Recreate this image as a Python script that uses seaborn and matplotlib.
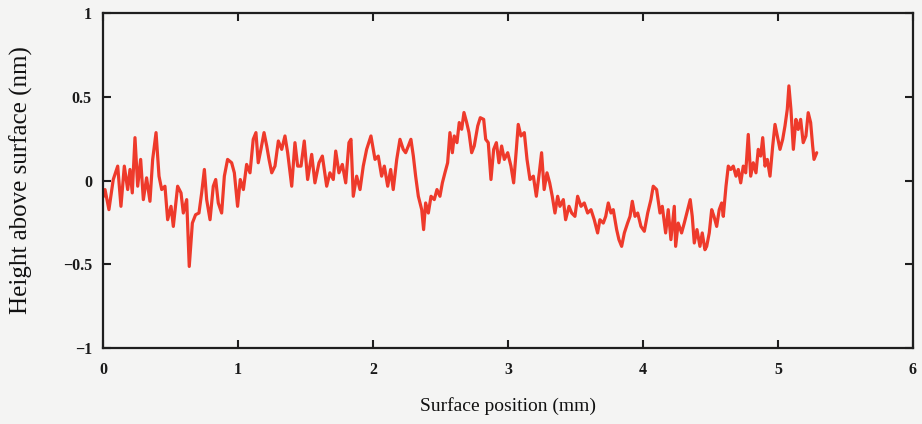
import matplotlib
matplotlib.use("Agg")
import matplotlib.pyplot as plt
import seaborn as sns
import numpy as np
import pandas as pd

# Surface profile: position along the surface (mm) and height above surface (nm)
position_mm = [
    0.0, 0.015, 0.044, 0.076, 0.109, 0.133, 0.158, 0.183, 0.2, 0.217, 0.237,
    0.257, 0.279, 0.299, 0.323, 0.348, 0.368, 0.393, 0.415, 0.435, 0.459,
    0.479, 0.504, 0.521, 0.553, 0.578, 0.595, 0.62, 0.639, 0.662, 0.686,
    0.711, 0.731, 0.751, 0.768, 0.793, 0.817, 0.835, 0.854, 0.879, 0.899,
    0.923, 0.953, 0.973, 0.997, 1.017, 1.04, 1.064, 1.089, 1.113,
    1.133, 1.15, 1.17, 1.193, 1.213, 1.23, 1.25, 1.274, 1.299, 1.324, 1.348,
    1.368, 1.398, 1.422, 1.442, 1.467, 1.491, 1.516, 1.546, 1.57, 1.6, 1.625,
    1.657, 1.681, 1.706, 1.724, 1.748, 1.773, 1.798, 1.822, 1.837, 1.854,
    1.879, 1.904, 1.928, 1.953, 1.985, 2.015, 2.039, 2.064, 2.084, 2.109,
    2.131, 2.15, 2.176, 2.2, 2.224,
    2.242, 2.262, 2.281, 2.299, 2.316, 2.336, 2.361, 2.375, 2.39, 2.41, 2.43,
    2.454, 2.474, 2.496, 2.514, 2.533, 2.553, 2.57, 2.588, 2.602, 2.622,
    2.639, 2.657, 2.674, 2.694, 2.711, 2.731, 2.75, 2.776, 2.795, 2.82,
    2.835, 2.854, 2.874, 2.894, 2.914, 2.933, 2.953, 2.973, 2.998, 3.022,
    3.042, 3.062, 3.076, 3.096, 3.121, 3.141, 3.163, 3.188, 3.21, 3.232,
    3.249, 3.268, 3.289, 3.309, 3.328, 3.348,
    3.368, 3.385, 3.41, 3.427, 3.452, 3.472, 3.496, 3.516, 3.541, 3.565,
    3.59, 3.615, 3.639, 3.664, 3.681, 3.706, 3.724, 3.743, 3.763, 3.78,
    3.805, 3.822, 3.842, 3.862, 3.886, 3.904, 3.921, 3.941, 3.961, 3.985,
    4.01, 4.035, 4.059, 4.076, 4.101, 4.126, 4.143, 4.168, 4.187, 4.207,
    4.232, 4.242, 4.261, 4.286, 4.306, 4.331, 4.35, 4.365, 4.38, 4.4, 4.422,
    4.439, 4.459,
    4.472, 4.491, 4.509, 4.526, 4.546, 4.565, 4.583, 4.595, 4.615, 4.632,
    4.65, 4.669, 4.689, 4.706, 4.724, 4.743, 4.761, 4.78, 4.798, 4.817,
    4.837, 4.854, 4.872, 4.887, 4.904, 4.921, 4.941, 4.961, 4.978, 4.995,
    5.015, 5.035, 5.052, 5.069, 5.081, 5.096, 5.114, 5.133, 5.15, 5.168,
    5.187, 5.207, 5.224, 5.242, 5.257, 5.267, 5.287,
]

height_nm = [
    -0.10, -0.054, -0.174, 0.006, 0.086, -0.154, 0.086, -0.054, 0.066, -0.074,
    0.256, -0.034, 0.126, -0.114, 0.016, -0.124, 0.126, 0.286, 0.026, -0.054,
    -0.034, -0.234, -0.154, -0.274, -0.034, -0.074, -0.194, -0.114, -0.513,
    -0.254, -0.204, -0.194, -0.074, 0.066, -0.114, -0.234, -0.034, 0.006,
    -0.134, -0.194, 0.026, 0.126, 0.106, 0.046, -0.154, 0.006, -0.054, 0.096,
    0.046, 0.246,
    0.286, 0.106, 0.186, 0.286, 0.206, 0.126, 0.046, 0.086, 0.236, 0.186,
    0.266, 0.166, -0.034, 0.226, 0.086, 0.086, 0.236, 0.006, 0.156, -0.014,
    0.106, 0.146, -0.034, 0.046, 0.006, 0.176, 0.046, 0.096, -0.014, 0.226,
    0.246, -0.094, 0.026, -0.054, 0.086, 0.186, 0.266, 0.126, 0.146, 0.026,
    0.086, -0.034, 0.066, -0.054, 0.126, 0.246, 0.186,
    0.166, 0.206, 0.246, 0.146, 0.026, -0.094, -0.174, -0.293, -0.134,
    -0.194, -0.094, -0.114, -0.054, -0.094, -0.014, 0.046, 0.106, 0.286,
    0.166, 0.266, 0.226, 0.346, 0.306, 0.406, 0.346, 0.286, 0.166, 0.206,
    0.326, 0.375, 0.365, 0.246, 0.226, 0.006, 0.186, 0.226, 0.106, 0.206,
    0.126, 0.166, 0.086, -0.014, 0.186, 0.335, 0.266, 0.286, 0.126, 0.006,
    0.026, -0.094, 0.046, 0.166, -0.054, 0.046, -0.014, -0.094, -0.194,
    -0.094, -0.154, -0.114, -0.234, -0.154, -0.194, -0.214, -0.094, -0.154,
    -0.134, -0.194, -0.174, -0.234, -0.313, -0.234, -0.254, -0.214, -0.134,
    -0.194, -0.174, -0.293, -0.353, -0.393, -0.313, -0.254, -0.214, -0.124,
    -0.214, -0.194, -0.274, -0.303, -0.194, -0.114, -0.034, -0.054, -0.194,
    -0.154, -0.313, -0.174, -0.353, -0.154, -0.393, -0.254, -0.313, -0.254,
    -0.174, -0.114, -0.214, -0.373, -0.293, -0.393, -0.313, -0.413,
    -0.393, -0.313, -0.174, -0.214, -0.274, -0.174, -0.134, -0.214, -0.034,
    0.086, 0.066, 0.086, 0.026, 0.066, -0.014, 0.086, 0.046, 0.275, 0.026,
    0.106, 0.046, 0.186, 0.146, 0.256, 0.086, 0.126, 0.026, 0.206, 0.335,
    0.266, 0.186, 0.246, 0.326, 0.425, 0.565, 0.425, 0.186, 0.365, 0.305,
    0.365, 0.226, 0.266, 0.405, 0.346, 0.206, 0.126, 0.166,
]

x_ticks = [0, 1, 2, 3, 4, 5, 6]
y_ticks = [-1, -0.5, 0, 0.5, 1]
y_tick_labels = ["\u22121", "\u22120.5", "0", "0.5", "1"]

profile = pd.DataFrame({"position": position_mm, "height": height_nm})

sns.set_theme(style="white")
plt.rcParams["font.family"] = ["Liberation Serif", "DejaVu Serif"]

bg = "#f4f4f3"
ink = "#1e1e1e"
fig = plt.figure(figsize=(9.22, 4.24), dpi=100, facecolor=bg)
ax = fig.add_axes([0.1117, 0.1792, 0.8785, 0.7901])
ax.set_facecolor(bg)

sns.lineplot(data=profile, x="position", y="height", ax=ax, sort=False,
             estimator=None, color="#ee3a2b", linewidth=2.3)

ax.set_xlim(0, 6)
ax.set_ylim(-1, 1)
ax.set_xticks(x_ticks)
ax.set_xticklabels([str(t) for t in x_ticks], fontweight="bold")
ax.set_yticks(y_ticks)
ax.set_yticklabels(y_tick_labels, fontweight="bold")

for side in ["left", "right", "top", "bottom"]:
    ax.spines[side].set_visible(True)
    ax.spines[side].set_color(ink)
    ax.spines[side].set_linewidth(1.6)

ax.tick_params(axis="both", which="major", direction="in", length=6,
               width=1.5, color=ink, labelsize=11.5, labelcolor="#1a1a1a",
               top=True, right=True, left=True, bottom=True,
               labeltop=False, labelright=False)
ax.tick_params(axis="x", pad=10)
ax.tick_params(axis="y", pad=8)

ax.set_xlabel("Surface position (mm)", fontsize=14, color="#111111", va="center")
ax.set_ylabel("Height above surface (nm)", fontsize=18, color="#111111", va="center")
ax.xaxis.set_label_coords(0.5, -0.174)
ax.yaxis.set_label_coords(-0.101, 0.5)

fig.savefig("out.png", dpi=100, facecolor=bg)
